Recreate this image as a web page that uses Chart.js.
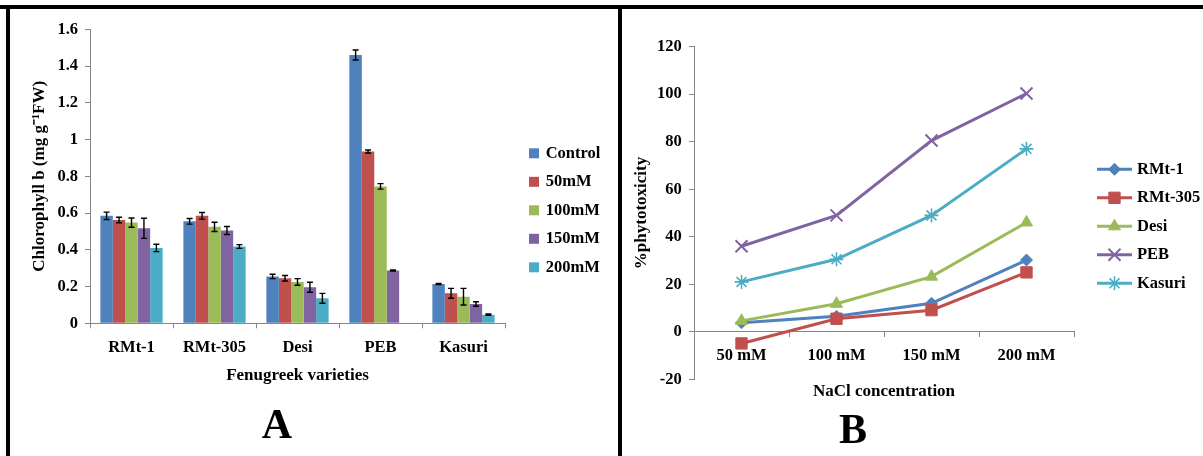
<!DOCTYPE html>
<html>
<head>
<meta charset="utf-8">
<script src="https://cdn.jsdelivr.net/npm/chart.js@4.4.1/dist/chart.umd.min.js"></script>
<style>
  html, body { margin: 0; padding: 0; background: #fff; }
  #wrap { position: relative; width: 1203px; height: 456px; overflow: hidden; background: #fff; }
  #wrap canvas { position: absolute; left: 0; top: 0; }
  .rule { position: absolute; background: #000; }
  .letter { position: absolute; font: bold 42px "Liberation Serif", "Times New Roman", serif;
            line-height: 1; transform: translate(-50%, -50%); color: #000; }
</style>
</head>
<body>
<div id="wrap">
  <canvas id="chartA" width="1203" height="456" style="width:1203px;height:456px"></canvas>
  <canvas id="chartB" width="1203" height="456" style="width:1203px;height:456px"></canvas>
  <div class="rule" style="left:0;top:5px;width:1203px;height:4px"></div>
  <div class="rule" style="left:6px;top:5px;width:4px;height:451px"></div>
  <div class="rule" style="left:618px;top:5px;width:4px;height:451px"></div>
  <div class="letter" style="left:277px;top:424px">A</div>
  <div class="letter" style="left:853px;top:429px">B</div>
</div>
<script>
// Panel A: chlorophyll b content per variety and NaCl treatment (mean and error)
const varieties = ['RMt-1', 'RMt-305', 'Desi', 'PEB', 'Kasuri'];
const treatments = ['Control', '50mM', '100mM', '150mM', '200mM'];
const chlControl = [0.585, 0.555, 0.255, 1.46, 0.214];
const chl50 = [0.562, 0.585, 0.245, 0.935, 0.163];
const chl100 = [0.548, 0.525, 0.225, 0.745, 0.145];
const chl150 = [0.517, 0.505, 0.196, 0.288, 0.105];
const chl200 = [0.41, 0.418, 0.136, null, 0.047];
const errControl = [0.02, 0.015, 0.012, 0.027, 0.003];
const err50 = [0.015, 0.018, 0.015, 0.008, 0.027];
const err100 = [0.025, 0.025, 0.018, 0.015, 0.045];
const err150 = [0.055, 0.022, 0.027, 0.003, 0.012];
const err200 = [0.02, 0.01, 0.027, null, 0.004];
const chlTicks = [0, 0.2, 0.4, 0.6, 0.8, 1, 1.2, 1.4, 1.6];

// Panel B: % phytotoxicity per variety across NaCl concentrations
const concentrations = ['50 mM', '100 mM', '150 mM', '200 mM'];
const lineVarieties = ['RMt-1', 'RMt-305', 'Desi', 'PEB', 'Kasuri'];
const phytoRMt1 = [3.8, 6.5, 12, 30.2];
const phytoRMt305 = [-4.9, 5.5, 9.1, 25];
const phytoDesi = [4.6, 11.8, 23.2, 46];
const phytoPEB = [36, 49, 80.5, 100.3];
const phytoKasuri = [21, 30.5, 49, 77];
const phytoTicks = [-20, 0, 20, 40, 60, 80, 100, 120];

const PALETTE = ['#4F81BD', '#C0504D', '#9BBB59', '#8064A2', '#4BACC6'];
const AXIS = '#868686';
const SERIF = '"Liberation Serif", "Times New Roman", serif';
const TICK_FONT = { family: SERIF, size: 16.5, weight: 'bold' };
const TITLE_FONT = { family: SERIF, size: 17, weight: 'bold' };

Chart.defaults.color = '#000';
Chart.defaults.font.family = SERIF;

// Vertical error bars with small caps on top of each bar
const errorBarPlugin = {
  id: 'errorBars',
  afterDatasetsDraw(chart) {
    const ctx = chart.ctx, ys = chart.scales.y;
    ctx.save();
    ctx.strokeStyle = '#000';
    ctx.lineWidth = 1.4;
    chart.data.datasets.forEach((ds, i) => {
      const meta = chart.getDatasetMeta(i);
      meta.data.forEach((bar, j) => {
        const v = ds.data[j], e = ds.errorBars ? ds.errorBars[j] : null;
        if (v == null || e == null) return;
        const hi = ys.getPixelForValue(v + e), lo = ys.getPixelForValue(v - e);
        ctx.beginPath();
        ctx.moveTo(bar.x, hi); ctx.lineTo(bar.x, lo);
        ctx.moveTo(bar.x - 3, hi); ctx.lineTo(bar.x + 3, hi);
        ctx.moveTo(bar.x - 3, lo); ctx.lineTo(bar.x + 3, lo);
        ctx.stroke();
      });
    });
    ctx.restore();
  }
};

// Legend column drawn to the right of the plot area
const sideLegendPlugin = {
  id: 'sideLegend',
  afterDraw(chart, args, opts) {
    const ctx = chart.ctx;
    ctx.save();
    ctx.font = `bold ${opts.fontSize}px ${SERIF}`;
    ctx.textBaseline = 'middle';
    chart.data.datasets.forEach((ds, i) => {
      const y = opts.y + i * opts.gap;
      if (opts.kind === 'box') {
        ctx.fillStyle = ds.backgroundColor;
        ctx.fillRect(opts.x, y - 5, 10, 10);
      } else {
        ctx.strokeStyle = ds.borderColor;
        ctx.lineWidth = ds.borderWidth;
        ctx.beginPath();
        ctx.moveTo(opts.x, y); ctx.lineTo(opts.x + 35, y);
        ctx.stroke();
        ctx.fillStyle = ds.pointBackgroundColor;
        ctx.strokeStyle = ds.pointBorderColor;
        ctx.lineWidth = ds.pointBorderWidth;
        Chart.helpers.drawPoint(ctx, {
          pointStyle: ds.pointStyle, radius: ds.pointRadius,
          rotation: 0, borderWidth: ds.pointBorderWidth
        }, opts.x + 17.5, y);
      }
      ctx.fillStyle = '#000';
      ctx.fillText(ds.label, opts.x + opts.textOffset, y);
    });
    ctx.restore();
  }
};

// Horizontal axis caption placed below the lowest y tick
const bottomCaptionPlugin = {
  id: 'bottomCaption',
  afterDraw(chart, args, opts) {
    const ctx = chart.ctx, area = chart.chartArea;
    ctx.save();
    ctx.font = `bold ${opts.fontSize}px ${SERIF}`;
    ctx.fillStyle = '#000';
    ctx.textAlign = 'center';
    ctx.textBaseline = 'middle';
    ctx.fillText(opts.text, (area.left + area.right) / 2, area.bottom + opts.offset);
    ctx.restore();
  }
};

const chlSeries = [chlControl, chl50, chl100, chl150, chl200];
const chlErrors = [errControl, err50, err100, err150, err200];

new Chart(document.getElementById('chartA'), {
  type: 'bar',
  data: {
    labels: varieties,
    datasets: treatments.map((name, i) => ({
      label: name,
      data: chlSeries[i],
      errorBars: chlErrors[i],
      backgroundColor: PALETTE[i],
      borderWidth: 0
    }))
  },
  options: {
    responsive: false,
    animation: false,
    devicePixelRatio: 1,
    layout: { padding: { left: 25.8, top: 29.3, right: 698, bottom: 66.1 } },
    datasets: { bar: { categoryPercentage: 0.75, barPercentage: 1 } },
    plugins: {
      legend: { display: false },
      tooltip: { enabled: false },
      sideLegend: { kind: 'box', x: 529, y: 153.3, gap: 28.5, textOffset: 16.7, fontSize: 16.5 }
    },
    scales: {
      x: {
        grid: { offset: true, drawOnChartArea: false, drawTicks: true, tickLength: 5, color: AXIS },
        border: { color: AXIS, width: 1 },
        ticks: { font: TICK_FONT, color: '#000', padding: 10 },
        title: { display: true, text: 'Fenugreek varieties', font: TITLE_FONT, color: '#000',
                 padding: { top: 4, bottom: 4 } },
        afterFit: s => { s.height = 66.6; }
      },
      y: {
        min: 0, max: 1.6,
        afterBuildTicks: s => { s.ticks = chlTicks.map(v => ({ value: v })); },
        grid: { drawOnChartArea: false, drawTicks: true, tickLength: 5, color: AXIS },
        border: { color: AXIS, width: 1 },
        ticks: { font: TICK_FONT, color: '#000', padding: 7, callback: v => String(v) },
        title: { display: true, text: 'Chlorophyll b (mg g\u207B\u00B9FW)', font: TITLE_FONT, color: '#000',
                 padding: { top: 4, bottom: 4 } },
        afterFit: s => { s.width = 64.2; }
      }
    }
  },
  plugins: [errorBarPlugin, sideLegendPlugin]
});

const phytoSeries = [phytoRMt1, phytoRMt305, phytoDesi, phytoPEB, phytoKasuri];
const markerStyles = [
  { pointStyle: 'rectRot', pointRadius: 6, pointBorderWidth: 1 },
  { pointStyle: 'rect', pointRadius: 8, pointBorderWidth: 1 },
  { pointStyle: 'triangle', pointRadius: 7, pointBorderWidth: 1 },
  { pointStyle: 'crossRot', pointRadius: 8.5, pointBorderWidth: 2 },
  { pointStyle: 'star', pointRadius: 7, pointBorderWidth: 1.6 }
];

new Chart(document.getElementById('chartB'), {
  type: 'line',
  data: {
    labels: concentrations,
    datasets: lineVarieties.map((name, i) => Object.assign({
      label: name,
      data: phytoSeries[i],
      borderColor: PALETTE[i],
      backgroundColor: PALETTE[i],
      pointBackgroundColor: PALETTE[i],
      pointBorderColor: PALETTE[i],
      borderWidth: 3,
      tension: 0,
      fill: false,
      order: lineVarieties.length - i
    }, markerStyles[i]))
  },
  options: {
    responsive: false,
    animation: false,
    devicePixelRatio: 1,
    layout: { padding: { left: 627.8, top: 46.7, right: 129, bottom: 76.7 } },
    plugins: {
      legend: { display: false },
      tooltip: { enabled: false },
      sideLegend: { kind: 'line', x: 1097, y: 169.3, gap: 28.5, textOffset: 40, fontSize: 16.5 },
      bottomCaption: { text: 'NaCl concentration', offset: 12.7, fontSize: 17 }
    },
    scales: {
      x: {
        position: { y: 0 },
        offset: true,
        grid: { offset: true, drawOnChartArea: false, drawTicks: true, tickLength: 5, color: AXIS },
        border: { color: AXIS, width: 1 },
        ticks: { font: TICK_FONT, color: '#000', padding: 9.5 }
      },
      y: {
        min: -20, max: 120,
        afterBuildTicks: s => { s.ticks = phytoTicks.map(v => ({ value: v })); },
        grid: { drawOnChartArea: false, drawTicks: true, tickLength: 5, color: AXIS },
        border: { color: AXIS, width: 1 },
        ticks: { font: TICK_FONT, color: '#000', padding: 7.3, callback: v => String(v) },
        title: { display: true, text: '%phytotoxicity', font: TITLE_FONT, color: '#000',
                 padding: { top: 4, bottom: 4 } },
        afterFit: s => { s.width = 66.2; }
      }
    }
  },
  plugins: [sideLegendPlugin, bottomCaptionPlugin]
});
</script>
</body>
</html>
